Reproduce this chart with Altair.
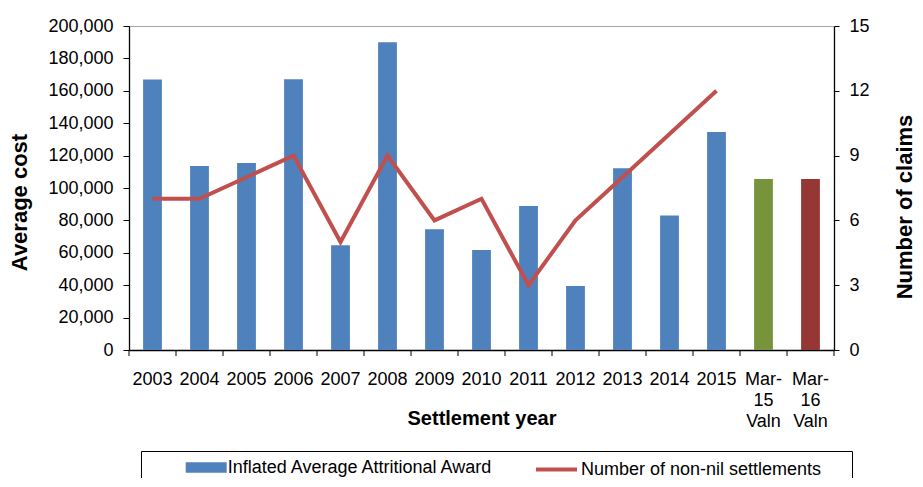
import altair as alt
import pandas as pd

# ---- data ----
categories = ["2003", "2004", "2005", "2006", "2007", "2008", "2009", "2010",
              "2011", "2012", "2013", "2014", "2015", "Mar-15 Valn", "Mar-16 Valn"]
average_cost = [167000, 113600, 115400, 167200, 64600, 190000, 74500, 61700,
                88900, 39500, 112200, 83100, 134600, 105600, 105600]
bar_series = ["Inflated Average Attritional Award"] * 13 + ["Mar-15 Valn", "Mar-16 Valn"]
bar_domain = ["Inflated Average Attritional Award", "Mar-15 Valn", "Mar-16 Valn"]
bar_colors = ["#4F81BD", "#77933C", "#953735"]

line_years = categories[:13]
claims = [7, 7, 8, 9, 5, 9, 6, 7, 3, 6, 8, 10, 12]
line_series = ["Number of non-nil settlements"] * 13
line_color = ["#C0504D"]

cost_ticks = list(range(0, 200001, 20000))
claim_ticks = [0, 3, 6, 9, 12, 15]

bar_df = pd.DataFrame({"category": categories, "cost": average_cost, "series": bar_series})
line_df = pd.DataFrame({"category": line_years, "claims": claims, "series": line_series})

FONT = "Liberation Sans"
W, H = 705, 324
STEP = W / len(categories)

label_expr = ("indexof(datum.value, 'Mar-') == 0 ? "
              "[substring(datum.value, 0, 4), substring(datum.value, 4, 6), substring(datum.value, 7)]"
              " : datum.value")

x_scale = alt.Scale(domain=categories, paddingInner=0.6, paddingOuter=0.3)

x_axis = alt.Axis(
    title="Settlement year",
    labelExpr=label_expr,
    labelAngle=0,
    labelBaseline="top",
    ticks=False,
    labelPadding=20,
    labelLineHeight=21,
    titleFontSize=20,
    titleFontWeight="bold",
    titleBaseline="alphabetic",
    titleY=74,
)

x_enc = alt.X("category:N", sort=categories, scale=x_scale, axis=x_axis)

bars = alt.Chart(bar_df).mark_bar().encode(
    x=x_enc,
    y=alt.Y(
        "cost:Q",
        scale=alt.Scale(domain=[0, 200000], nice=False),
        axis=alt.Axis(
            orient="left",
            title="Average cost",
            values=cost_ticks,
            format=",.0f",
            tickSize=6,
            labelPadding=10,
            titleFontSize=22,
            titleFontWeight="bold",
            titleAngle=270,
            titleAlign="center",
            titleBaseline="alphabetic",
            titleX=-103,
            titleY=176,
        ),
    ),
    color=alt.Color(
        "series:N",
        scale=alt.Scale(domain=bar_domain, range=bar_colors),
        legend=alt.Legend(
            title=None,
            values=[bar_domain[0]],
            orient="none",
            legendX=56.7,
            legendY=421,
            symbolType="M-1,-0.26H1V0.26H-1Z",
            symbolSize=1681,
            symbolStrokeWidth=0,
            labelOffset=1,
            padding=0,
        ),
    ),
)

# category boundary ticks below the x axis (Excel style)
ticks_left = alt.Chart(bar_df).mark_rule(color="#000000", strokeWidth=1, xOffset=-STEP / 2).encode(
    x=x_enc, y=alt.value(H), y2=alt.value(H + 6)
)
ticks_right = alt.Chart(bar_df.tail(1)).mark_rule(color="#000000", strokeWidth=1, xOffset=STEP / 2).encode(
    x=x_enc, y=alt.value(H), y2=alt.value(H + 6)
)

line = alt.Chart(line_df).mark_line(strokeWidth=4).encode(
    x=x_enc,
    y=alt.Y(
        "claims:Q",
        scale=alt.Scale(domain=[0, 15], nice=False),
        axis=alt.Axis(
            orient="right",
            title="Number of claims",
            values=claim_ticks,
            tickSize=5,
            labelPadding=10,
            titleFontSize=22,
            titleFontWeight="bold",
            titleAngle=270,
            titleAlign="center",
            titleBaseline="alphabetic",
            titleX=77,
            titleY=180.5,
        ),
    ),
    color=alt.Color(
        "series:N",
        scale=alt.Scale(domain=[line_series[0]], range=line_color),
        legend=alt.Legend(
            title=None,
            orient="none",
            legendX=405,
            legendY=421,
            symbolType="stroke",
            symbolSize=1681,
            symbolStrokeWidth=4,
            labelOffset=2,
            padding=0,
        ),
    ),
)

# legend frame
frame = alt.Chart(alt.Data(values=[{"frame": 1}])).mark_rect(
    fillOpacity=0, stroke="#000000", strokeWidth=1
).encode(
    x=alt.value(12.5), x2=alt.value(723.5), y=alt.value(425.5), y2=alt.value(490)
)

chart = (
    alt.layer(bars, ticks_left, ticks_right, line, frame)
    .resolve_scale(y="independent", color="independent")
    .properties(
        width=W,
        height=H,
        padding={"left": 121, "top": 18, "right": 81, "bottom": 128},
        autosize=alt.AutoSizeParams(type="none"),
    )
    .configure_view(stroke="#A6A6A6", strokeWidth=1)
    .configure_axis(
        labelFont=FONT,
        titleFont=FONT,
        labelFontSize=18,
        labelColor="#000000",
        titleColor="#000000",
        domainColor="#000000",
        tickColor="#000000",
        domainWidth=1.3,
        tickWidth=1,
        grid=False,
    )
    .configure_legend(
        labelFont=FONT,
        labelFontSize=18,
        labelColor="#000000",
        labelLimit=400,
    )
)

chart.save("out.html", embed_options={"renderer": "svg", "actions": False})
